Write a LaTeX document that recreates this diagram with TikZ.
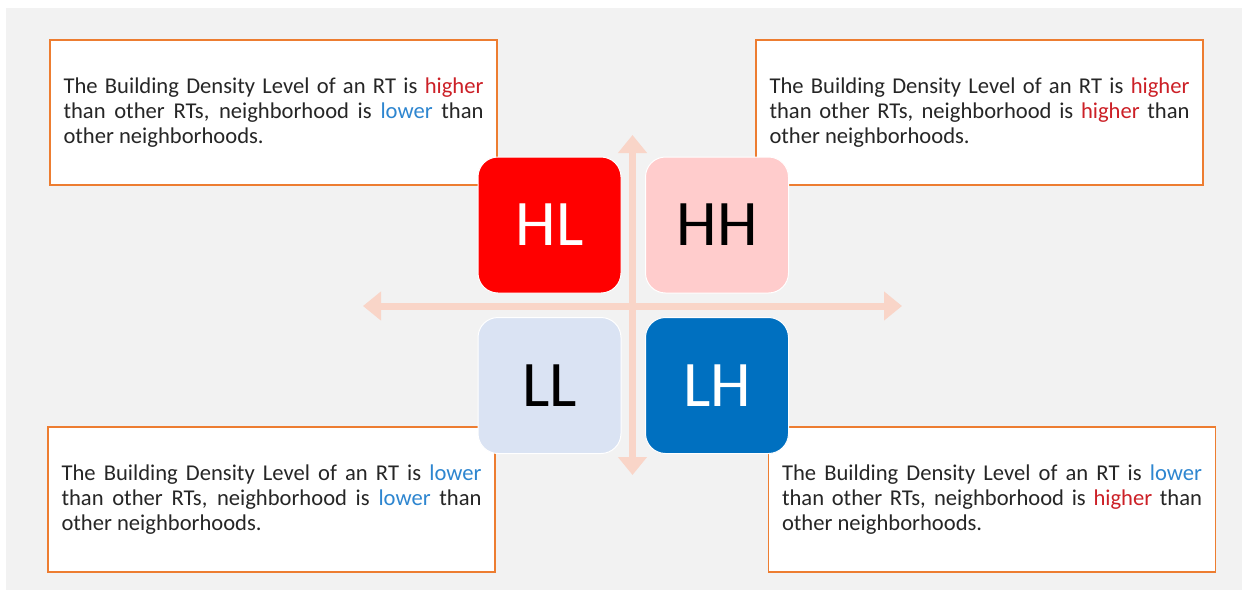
\documentclass[tikz,border=0pt]{standalone}
\usepackage{fontspec}
\setmainfont{Carlito}
\usetikzlibrary{arrows.meta}
\definecolor{bgc}{HTML}{F2F2F2}
\definecolor{boxedge}{HTML}{ED7D31}
\definecolor{txtc}{HTML}{262626}
\definecolor{hic}{RGB}{204,32,39}
\definecolor{loc}{RGB}{46,134,208}
\definecolor{axisc}{RGB}{249,213,200}
\definecolor{hlfill}{HTML}{FF0000}
\definecolor{hhfill}{HTML}{FFCCCC}
\definecolor{llfill}{HTML}{DAE3F3}
\definecolor{lhfill}{HTML}{0070C0}
\newcommand\hword[1]{\textcolor{hic}{#1}}
\newcommand\lword[1]{\textcolor{loc}{#1}}
\newcommand\boxtextsetup{\fontsize{22.6}{25}\selectfont\hyphenpenalty=10000 \tolerance=10000 \hbadness=10000\relax}
\begin{document}
\begin{tikzpicture}[x=1pt,y=-1pt,
  tbox/.style={draw=boxedge, line width=1.5pt, fill=white, text width=420pt,
    inner xsep=13.5pt, inner ysep=0pt, minimum height=145pt, align=justify,
    font=\boxtextsetup, text=txtc},
  tile/.style={draw=white, line width=1pt, rounded corners=20pt,
    minimum width=143pt, minimum height=136pt, inner sep=0pt,
    font=\fontsize{65}{70}\selectfont},
  axis/.style={draw=axisc, line width=7pt,
    {Triangle[width=28pt,length=18pt]}-{Triangle[width=28pt,length=18pt]}}
]
\useasboundingbox (0,0) rectangle (1245,592);
\fill[bgc] (6,8) rectangle (1242,590);

% text boxes
\node[tbox] (tl) at (273.5,112.5) {The Building Density Level of an RT is \hword{higher}\linebreak than other RTs, neighborhood is \lword{lower} than\linebreak other neighborhoods.};
\node[tbox] (tr) at (979.5,112.5) {The Building Density Level of an RT is \hword{higher}\linebreak than other RTs, neighborhood is \hword{higher} than\linebreak other neighborhoods.};
\node[tbox] (bl) at (271.5,499.5) {The Building Density Level of an RT is \lword{lower}\linebreak than other RTs, neighborhood is \lword{lower} than\linebreak other neighborhoods.};
\node[tbox] (br) at (992,499.5) {The Building Density Level of an RT is \lword{lower}\linebreak than other RTs, neighborhood is \hword{higher} than\linebreak other neighborhoods.};

% axes
\coordinate (axl) at (363,306);
\coordinate (axr) at (902,306);
\coordinate (axt) at (632.5,135);
\coordinate (axb) at (632.5,475);
\draw[axis] (axl) -- (axr);
\draw[axis] (axt) -- (axb);

% quadrant tiles
\node[tile, fill=hlfill, text=white] (hl) at (549.5,225) {HL};
\node[tile, fill=hhfill, text=black] (hh) at (717,225) {HH};
\node[tile, fill=llfill, text=black] (ll) at (549.5,385.5) {LL};
\node[tile, fill=lhfill, text=white] (lh) at (717,385.5) {LH};
\end{tikzpicture}
\end{document}
